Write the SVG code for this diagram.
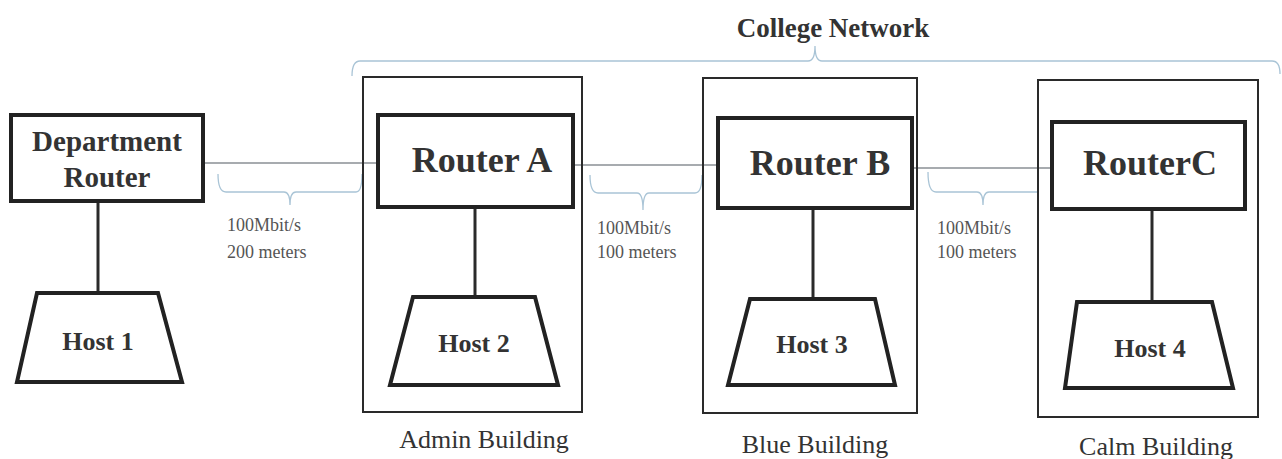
<svg xmlns="http://www.w3.org/2000/svg" width="1282" height="459" viewBox="0 0 1282 459">
<style>
.bld{fill:none;stroke:#2a2a2a;stroke-width:2}
.rt{fill:#fff;stroke:#222;stroke-width:4}
.host{fill:#fff;stroke:#222;stroke-width:4;stroke-linejoin:miter}
.vl{stroke:#2a2a2a;stroke-width:3}
.hl{stroke:#8a8f94;stroke-width:1.3}
.br{fill:none;stroke:#a9c4d6;stroke-width:1.3}
text{font-family:'Liberation Serif','Times New Roman','DejaVu Serif',serif}
.rtxt{font-weight:bold;fill:#333;text-anchor:middle}
.lbl{fill:#555;font-size:18px}
.bl{fill:#333;font-size:26px;text-anchor:middle}
</style>
<rect width="1282" height="459" fill="#fff"/>
<text x="833" y="37" class="rtxt" font-size="27">College Network</text>
<path class="br" d="M352,76 Q352,61 360,61 L808,61 Q815,61 815,46 Q815,61 822,61 L1272,61 Q1280,61 1280,74"/>
<g id="connectors">
<line class="hl" x1="203" y1="163" x2="378" y2="163"/>
<line class="hl" x1="573" y1="165" x2="718" y2="165"/>
<line class="hl" x1="912" y1="168" x2="1052" y2="168"/>
<line class="vl" x1="98" y1="201" x2="98" y2="293"/>
<line class="vl" x1="475" y1="207" x2="475" y2="297"/>
<line class="vl" x1="813" y1="208" x2="813" y2="299"/>
<line class="vl" x1="1152" y1="209" x2="1152" y2="302"/>
<path class="br" d="M218,174 Q218,192 226,192 L284,192 Q290,192 290,205 Q290,192 296,192 L356,192 Q362,192 362,174"/>
<path class="br" d="M590,175 Q590,193 598,193 L637,193 Q643,193 643,210 Q643,193 649,193 L695,193 Q702,193 702,175"/>
<path class="br" d="M928,172 Q928,192 936,192 L977,192 Q983,192 983,205 Q983,192 989,192 L1038,192"/>
<text x="227" y="231" class="lbl">100Mbit/s</text>
<text x="227" y="258" class="lbl">200 meters</text>
<text x="597" y="234" class="lbl">100Mbit/s</text>
<text x="597" y="258" class="lbl">100 meters</text>
<text x="937" y="234" class="lbl">100Mbit/s</text>
<text x="937" y="258" class="lbl">100 meters</text>
</g>
<g id="dept">
<rect class="rt" x="11" y="115" width="192" height="86"/>
<text x="107" y="151" class="rtxt" font-size="29">Department</text>
<text x="107" y="187" class="rtxt" font-size="29">Router</text>
</g>
<g id="host1">
<polygon class="host" points="37,293 158,293 182,382 17,382"/>
<text x="98" y="350" class="rtxt" font-size="26">Host 1</text>
</g>
<g id="admin">
<rect class="bld" x="363" y="77" width="219" height="335"/>
<text x="484" y="448" class="bl">Admin Building</text>
</g>
<g id="routerA">
<rect class="rt" x="378" y="115" width="195" height="92"/>
<text x="482" y="172" class="rtxt" font-size="36">Router A</text>
</g>
<g id="host2">
<polygon class="host" points="413,297 535,297 558,385 390,385"/>
<text x="474" y="352" class="rtxt" font-size="26">Host 2</text>
</g>
<g id="blue">
<rect class="bld" x="703" y="78" width="214" height="335"/>
<text x="815" y="453" class="bl">Blue Building</text>
</g>
<g id="routerB">
<rect class="rt" x="718" y="118" width="194" height="90"/>
<text x="820" y="175" class="rtxt" font-size="36">Router B</text>
</g>
<g id="host3">
<polygon class="host" points="750,299 875,299 895,385 728,385"/>
<text x="812" y="353" class="rtxt" font-size="26">Host 3</text>
</g>
<g id="calm">
<rect class="bld" x="1038" y="80" width="220" height="337"/>
<text x="1156" y="455" class="bl">Calm Building</text>
</g>
<g id="routerC">
<rect class="rt" x="1052" y="122" width="193" height="87"/>
<text x="1150" y="175" class="rtxt" font-size="36">RouterC</text>
</g>
<g id="host4">
<polygon class="host" points="1077,302 1212,302 1233,388 1065,388"/>
<text x="1150" y="357" class="rtxt" font-size="26">Host 4</text>
</g>
</svg>
